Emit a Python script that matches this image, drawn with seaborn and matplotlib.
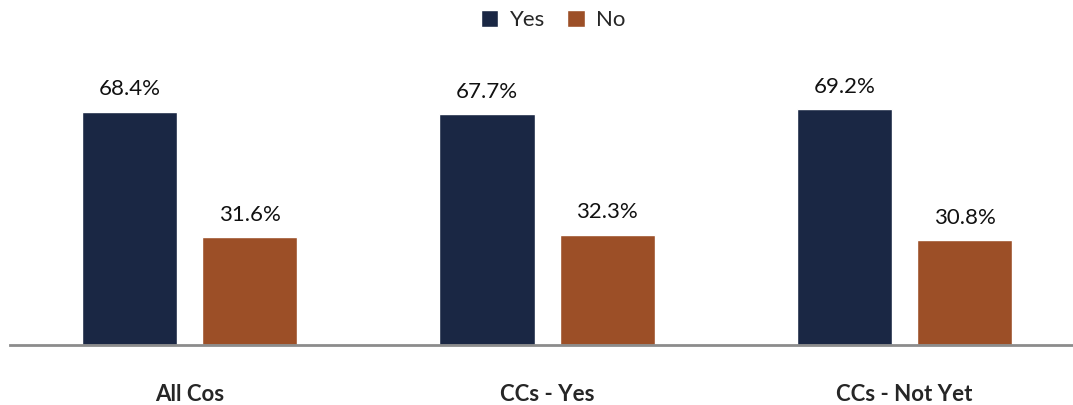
import matplotlib
matplotlib.use("Agg")
import matplotlib.pyplot as plt
import seaborn as sns
import pandas as pd

categories = ["All Cos", "CCs - Yes", "CCs - Not Yet"]
yes_values = [68.4, 67.7, 69.2]
no_values = [31.6, 32.3, 30.8]
series = ["Yes", "No"]
colors = ["#1a2744", "#9c4f27"]

rows = []
for c, y, n in zip(categories, yes_values, no_values):
    rows.append({"cat": c, "series": "Yes", "val": y})
    rows.append({"cat": c, "series": "No", "val": n})
df = pd.DataFrame(rows)

sns.set_style("white")
plt.rcParams['font.family'] = ['Lato', 'DejaVu Sans']

fig = plt.figure(figsize=(10.73, 4.05), dpi=100)
ax = fig.add_axes([10/1073, 60/405, 1063/1073, 305/405])

sns.barplot(data=df, x="cat", y="val", hue="series", hue_order=series,
            palette=colors, width=0.672, gap=0.208, ax=ax, legend=True,
            saturation=1, errorbar=None)

for cont in ax.containers:
    ax.bar_label(cont, labels=[f"{v:.1f}%" for v in cont.datavalues],
                 padding=9, fontsize=16, color="#111111")

ax.set_xlim(-0.502, 2.471)
ax.set_ylim(0, 89.5)
ax.set_yticks([])
ax.set_xlabel("")
ax.set_ylabel("")
for s in ["top", "right", "left"]:
    ax.spines[s].set_visible(False)
ax.spines["bottom"].set_color("#8c8c8c")
ax.spines["bottom"].set_linewidth(2)
ax.tick_params(axis="x", length=0, pad=28)
for lab in ax.get_xticklabels():
    lab.set_fontweight("bold")
    lab.set_fontsize(16)

leg = ax.legend(loc="upper center", bbox_to_anchor=(543/1063, 1.165), ncol=2,
                frameon=False, fontsize=16, handlelength=0.8, handleheight=0.8,
                handletextpad=0.5, columnspacing=1.0)

fig.savefig("out.png", dpi=100)
